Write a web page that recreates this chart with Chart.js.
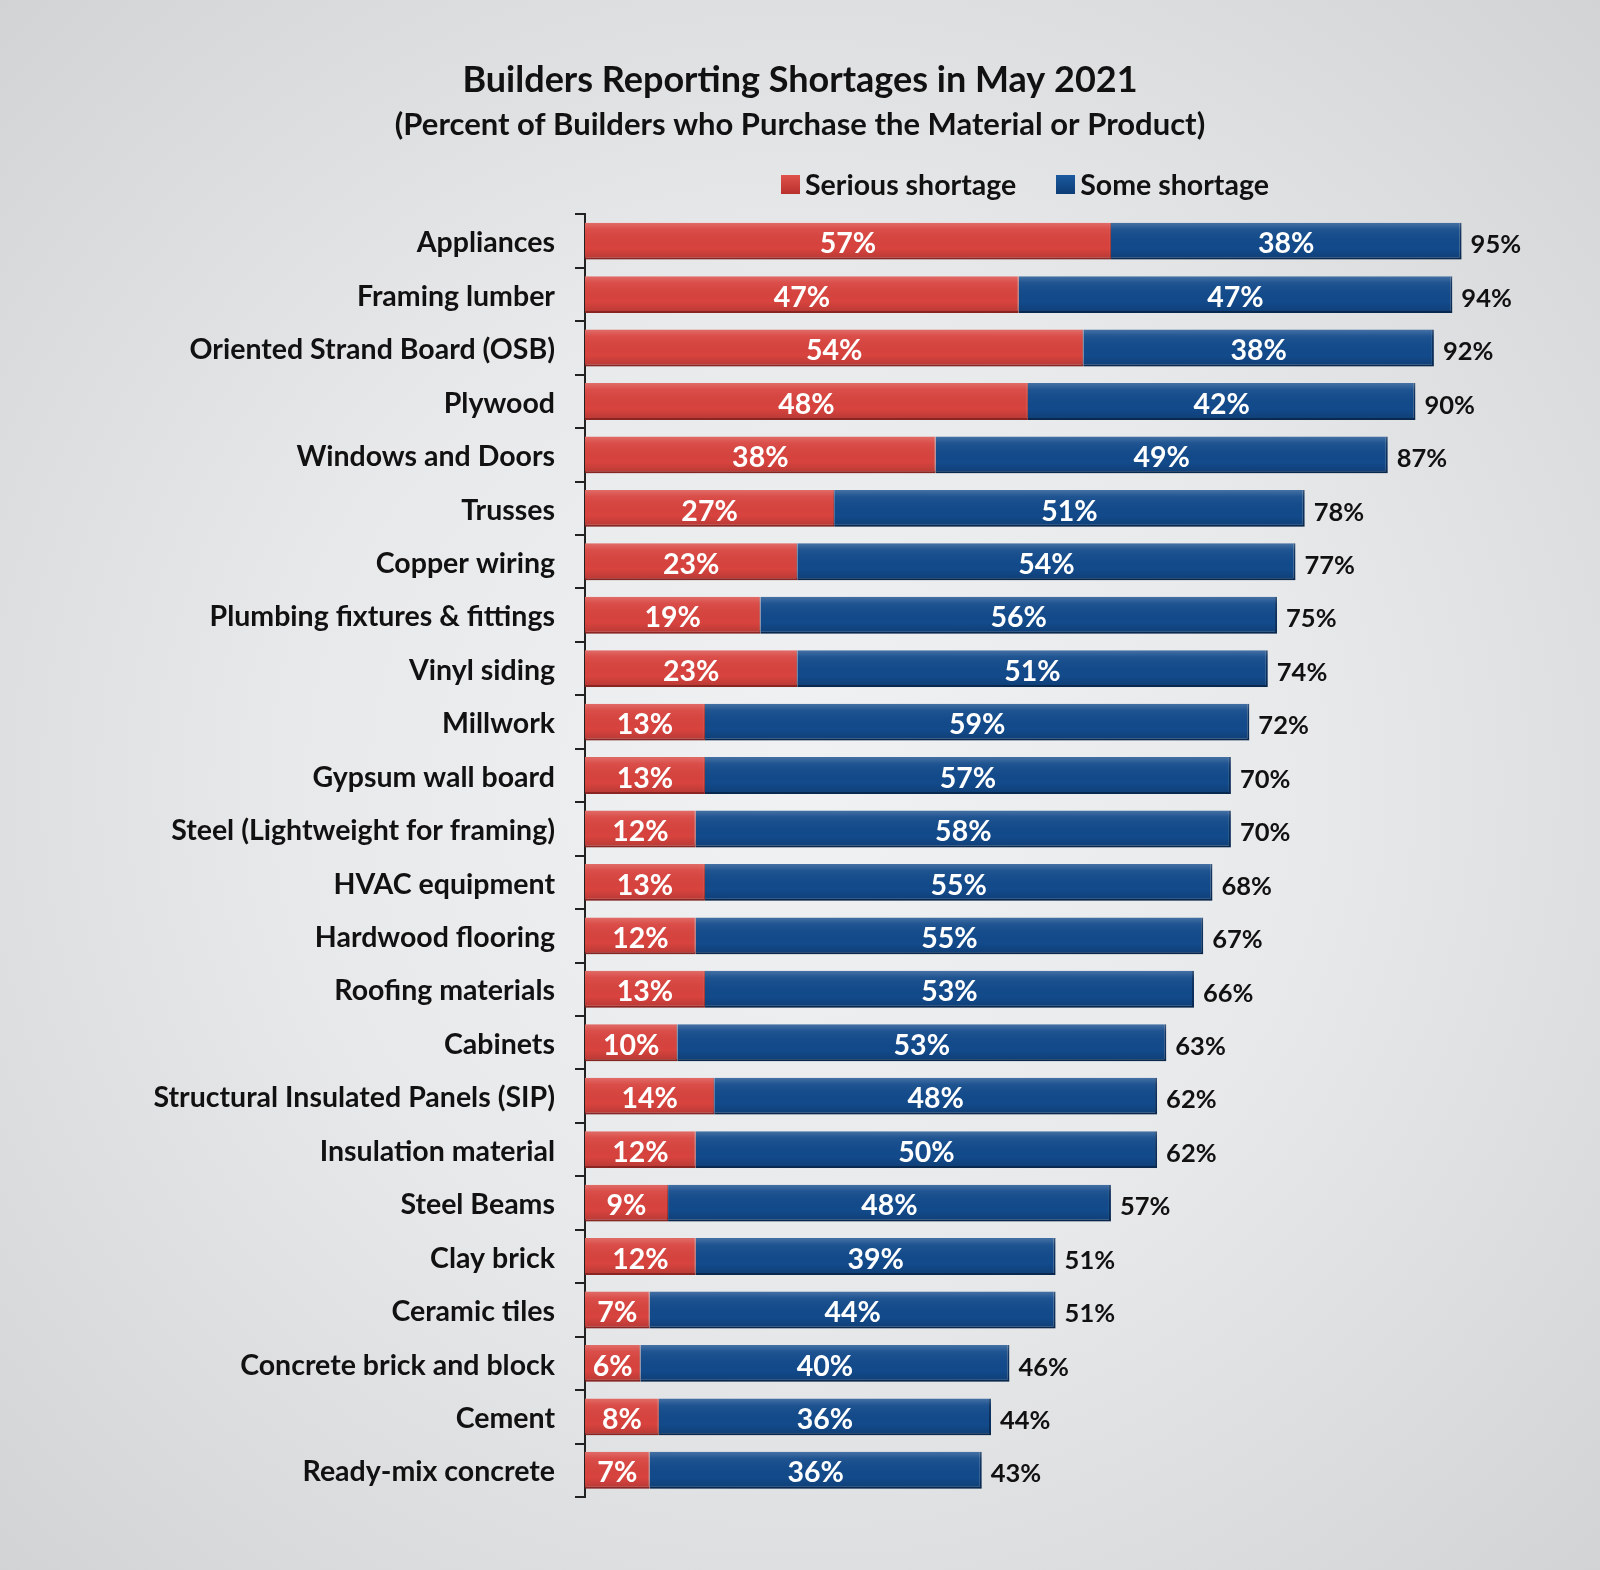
<!DOCTYPE html>
<html>
<head>
<meta charset="utf-8">
<title>Builders Reporting Shortages in May 2021</title>
<script src="https://cdn.jsdelivr.net/npm/chart.js@4.4.1/dist/chart.umd.min.js"></script>
<style>
    html, body { margin: 0; padding: 0; }
    body {
        width: 1600px;
        height: 1570px;
        overflow: hidden;
        background: radial-gradient(ellipse at 50% 50%, #f0f1f2 0%, #e8e9ea 45%, #d2d3d5 100%);
        font-family: Lato, "Noto Sans", sans-serif;
    }
    .wrap { position: relative; width: 1600px; height: 1570px; }
    .legend {
        position: absolute;
        top: 167px;
        left: 781px;
        display: flex;
        align-items: center;
        font-size: 28.5px;
        font-weight: 700;
        color: #111;
    }
    .legend .item { display: flex; align-items: center; margin-right: 40px; }
    .legend .box { width: 19px; height: 19px; margin-right: 5px; }
    .legend .red { background: linear-gradient(#e0524c, #b8302c); }
    .legend .blue { background: linear-gradient(#1b5aa0, #0c3c75); }
</style>
</head>
<body>
<div class="wrap">
    <canvas id="shortageChart" width="1600" height="1570"></canvas>
    <div class="legend">
        <div class="item"><span class="box red"></span><span id="legSerious"></span></div>
        <div class="item"><span class="box blue"></span><span id="legSome"></span></div>
    </div>
</div>
<script>
// --- Data ---
const categories = [
    "Appliances", "Framing lumber", "Oriented Strand Board (OSB)", "Plywood",
    "Windows and Doors", "Trusses", "Copper wiring", "Plumbing fixtures & fittings",
    "Vinyl siding", "Millwork", "Gypsum wall board", "Steel (Lightweight for framing)",
    "HVAC equipment", "Hardwood flooring", "Roofing materials", "Cabinets",
    "Structural Insulated Panels (SIP)", "Insulation material", "Steel Beams",
    "Clay brick", "Ceramic tiles", "Concrete brick and block", "Cement", "Ready-mix concrete"
];
const seriousShortage = [57, 47, 54, 48, 38, 27, 23, 19, 23, 13, 13, 12, 13, 12, 13, 10, 14, 12, 9, 12, 7, 6, 8, 7];
const someShortage    = [38, 47, 38, 42, 49, 51, 54, 56, 51, 59, 57, 58, 55, 55, 53, 53, 48, 50, 48, 39, 44, 40, 36, 36];
const totals          = [95, 94, 92, 90, 87, 78, 77, 75, 74, 72, 70, 70, 68, 67, 66, 63, 62, 62, 57, 51, 51, 46, 44, 43];
const seriesNames = ["Serious shortage", "Some shortage"];

document.getElementById('legSerious').innerText = seriesNames[0];
document.getElementById('legSome').innerText = seriesNames[1];

const FONT = "Lato, 'Noto Sans', sans-serif";

// Soft bevel over each bar, then the labels inside segments and totals at the end
const barLabels = {
    id: 'barLabels',
    afterDatasetsDraw(chart) {
        const ctx = chart.ctx;
        ctx.save();
        chart.data.datasets.forEach((ds, di) => {
            chart.getDatasetMeta(di).data.forEach(bar => {
                const top = bar.y - bar.height / 2;
                const g = ctx.createLinearGradient(0, top, 0, top + bar.height);
                g.addColorStop(0, 'rgba(255,255,255,0.22)');
                g.addColorStop(0.18, 'rgba(255,255,255,0.06)');
                g.addColorStop(0.7, 'rgba(0,0,0,0)');
                g.addColorStop(1, 'rgba(0,0,0,0.16)');
                ctx.fillStyle = g;
                ctx.fillRect(bar.base, top, bar.x - bar.base, bar.height);
            });
        });

        ctx.textBaseline = 'middle';
        chart.data.datasets.forEach((ds, di) => {
            const meta = chart.getDatasetMeta(di);
            meta.data.forEach((bar, i) => {
                ctx.fillStyle = '#ffffff';
                ctx.font = `700 28.5px ${FONT}`;
                ctx.textAlign = 'center';
                ctx.fillText(ds.data[i] + '%', (bar.x + bar.base) / 2, bar.y + 3);
                if (di === chart.data.datasets.length - 1) {
                    ctx.fillStyle = '#111111';
                    ctx.font = `700 25.5px ${FONT}`;
                    ctx.textAlign = 'left';
                    ctx.fillText(totals[i] + '%', bar.x + 9, bar.y + 4);
                }
            });
        });
        ctx.restore();
    }
};

new Chart(document.getElementById('shortageChart'), {
    type: 'bar',
    data: {
        labels: categories,
        datasets: [{
            label: seriesNames[0],
            data: seriousShortage,
            backgroundColor: '#d8433e',
            borderColor: '#a02b28',
            borderWidth: { top: 0, bottom: 2, right: 1, left: 0 },
            borderSkipped: false,
            categoryPercentage: 0.69,
            barPercentage: 1
        }, {
            label: seriesNames[1],
            data: someShortage,
            backgroundColor: '#124a8b',
            borderColor: '#0a2f5c',
            borderWidth: { top: 0, bottom: 2, right: 2, left: 0 },
            borderSkipped: false,
            categoryPercentage: 0.69,
            barPercentage: 1
        }]
    },
    options: {
        indexAxis: 'y',
        responsive: false,
        animation: false,
        layout: { padding: { left: 0, right: 0, top: 0, bottom: 73 } },
        plugins: {
            legend: { display: false },
            tooltip: { enabled: false },
            title: {
                display: true,
                text: 'Builders Reporting Shortages in May 2021',
                color: '#111',
                font: { family: FONT, size: 36, weight: '700' },
                padding: { top: 59, bottom: 0 }
            },
            subtitle: {
                display: true,
                text: '(Percent of Builders who Purchase the Material or Product)',
                color: '#111',
                font: { family: FONT, size: 31, weight: '700' },
                padding: { top: 4, bottom: 71 }
            }
        },
        scales: {
            x: {
                stacked: true,
                display: false,
                min: 0,
                max: 110
            },
            y: {
                stacked: true,
                offset: true,
                afterFit(scale) { scale.width = 585; },
                border: { display: true, color: '#222', width: 2 },
                grid: {
                    offset: true,
                    drawOnChartArea: false,
                    drawTicks: true,
                    tickLength: 10,
                    color: '#222',
                    lineWidth: 2
                },
                ticks: {
                    color: '#111',
                    padding: 20,
                    labelOffset: 2,
                    font: { family: FONT, size: 28.5, weight: '700' }
                }
            }
        }
    },
    plugins: [barLabels]
});
</script>
</body>
</html>
